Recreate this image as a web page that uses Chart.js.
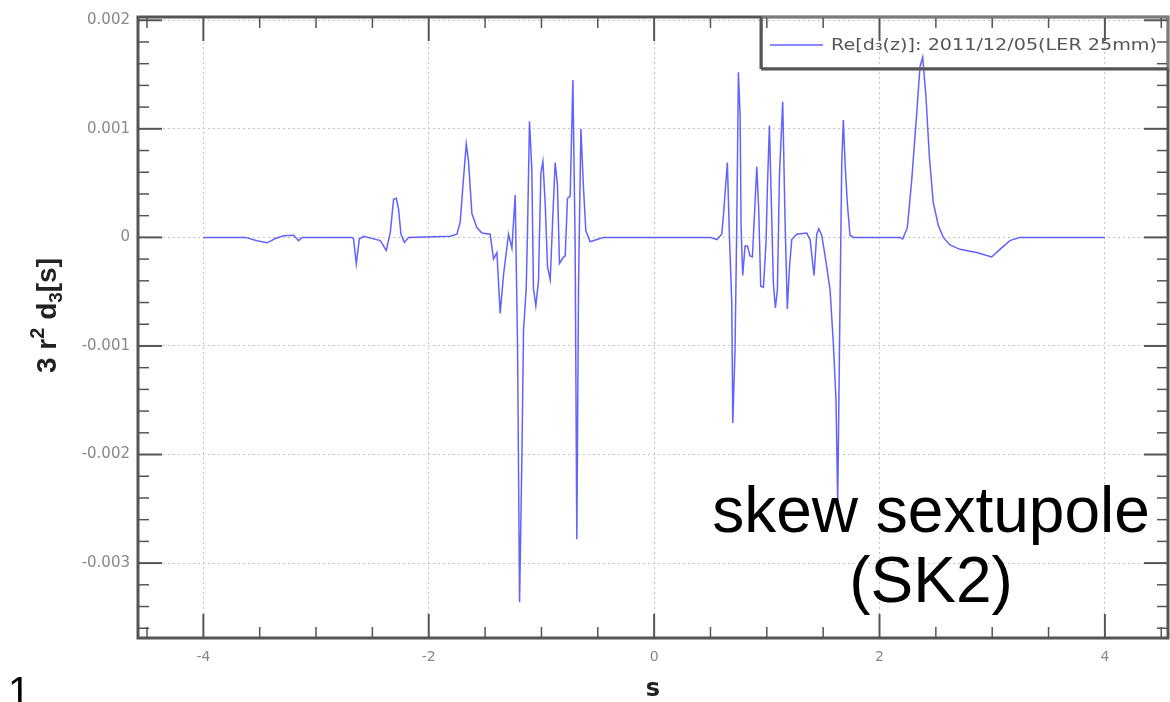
<!DOCTYPE html>
<html>
<head>
<meta charset="utf-8">
<script src="https://cdn.jsdelivr.net/npm/chart.js@4.4.1/dist/chart.umd.min.js"></script>
<style>
html, body { margin: 0; padding: 0; background: #fff; }
#wrap { position: relative; width: 1170px; height: 702px; overflow: hidden; }
#chart { position: absolute; left: 0; top: 0; }
.note { position: absolute; font-family: "Liberation Sans", Arial, sans-serif; color: #000; white-space: nowrap; }
</style>
</head>
<body>
<div id="wrap">
  <canvas id="chart" width="1170" height="702"></canvas>
  <div class="note" style="left:700px; top:475px; width:462px; text-align:center; font-size:64px; line-height:70px;">skew sextupole<br>(SK2)</div>
  <div class="note" style="left:8px; top:668px; font-size:40px; line-height:46px;">1</div>
</div>
<script>
// s positions along the magnet (x axis)
const sPos = [
  -4.0, -3.627, -3.524, -3.435, -3.361, -3.288, -3.199, -3.155, -3.125, -2.681,
  -2.667, -2.643, -2.616, -2.578, -2.430, -2.377, -2.341, -2.312, -2.288, -2.268,
  -2.247, -2.217, -2.179,
  -1.809, -1.750, -1.721, -1.691, -1.667, -1.647, -1.617, -1.573, -1.528, -1.455,
  -1.425, -1.395, -1.366, -1.336, -1.292, -1.262, -1.233, -1.212, -1.194, -1.173,
  -1.159, -1.135, -1.123, -1.106, -1.085, -1.071, -1.050, -1.026, -1.005, -0.987,
  -0.967, -0.946, -0.922, -0.899, -0.878, -0.858, -0.840, -0.810, -0.789, -0.769,
  -0.745, -0.721, -0.701, -0.686, -0.671, -0.650, -0.627, -0.606, -0.568, -0.508,
  -0.450,
  0.497, 0.556, 0.600, 0.615, 0.650, 0.668, 0.689, 0.698, 0.718, 0.733,
  0.748, 0.763, 0.772, 0.786, 0.807, 0.828, 0.851, 0.872, 0.887, 0.911,
  0.928, 0.946, 0.970, 0.993, 1.005, 1.023, 1.041, 1.058, 1.076, 1.094,
  1.112, 1.141, 1.162, 1.182, 1.200, 1.221, 1.266, 1.354, 1.384, 1.419,
  1.443, 1.461, 1.487, 1.517, 1.561, 1.590, 1.614, 1.629, 1.650, 1.665,
  1.679, 1.694, 1.714, 1.738, 1.768,
  2.182, 2.206, 2.247, 2.286, 2.330, 2.359, 2.383, 2.412, 2.442, 2.477,
  2.522, 2.566, 2.625, 2.714, 2.862, 2.995, 3.069, 3.157, 3.246, 4.0
];

// Re[d3(z)] values, 2011/12/05 (LER 25mm)
const d3Vals = [
  0, 0, -0.00003, -0.00005, -0.00001, 0.000015, 0.00002, -0.00003, 0, 0,
  -0.000015, -0.000245, -0.000015, 0.00001, -0.00003, -0.00012, 0.000046, 0.00035, 0.00036, 0.00026,
  0.00003, -0.000046, 0,
  0.00001, 0.00003, 0.00014, 0.00055, 0.00086, 0.0007, 0.00022, 0.00009, 0.00004, 0.00003,
  -0.0002, -0.00014, -0.0007, -0.00034, 0.00003, -0.0001, 0.00039, -0.001, -0.00336, -0.002,
  -0.00086, -0.00047, 0.00009, 0.00107, 0.00062, -0.00047, -0.00063, -0.0004, 0.00059, 0.0007,
  0.00032, -0.00027, -0.00039, 0.00019, 0.00069, 0.00048, -0.00024, -0.00019, -0.00017, 0.00036,
  0.00038, 0.00145, -0.00007, -0.00278, -0.00047, 0.001, 0.00046, 0.00006, -0.00004, -0.00002,
  0,
  0, -0.00002, 0.00003, 0.0002, 0.00069, 0.00002, -0.0006, -0.00171, -0.00103, 0.00008,
  0.00152, 0.00112, 0.00008, -0.00035, -0.00008, -0.00008, -0.00017, -0.00018, 0.00014, 0.00065,
  0.00026, -0.00045, -0.00046, -0.00005, 0.00045, 0.00103, 0.00029, -0.00042, -0.00065, -0.00048,
  0.00057, 0.00125, 0.00014, -0.00066, -0.00029, -0.00002, 0.00003, 0.00004, -0.00002, -0.00035,
  0.00003, 0.00008, 0.00002, -0.00017, -0.00048, -0.00097, -0.0015, -0.00245, -0.00057, 0.00069,
  0.00108, 0.00069, 0.00032, 0.00002, 0,
  0, -0.000015, 0.00009, 0.00053, 0.00114, 0.00157, 0.00166, 0.0013, 0.00075, 0.00032,
  0.00011, 0, -0.00007, -0.00011, -0.00014, -0.00018, -0.00011, -0.00003, 0, 0
];

const xTicks = [-4, -2, 0, 2, 4];
const xTickLabels = ['-4', '-2', '0', '2', '4'];
const xMinorTicks = [-4.5, -3.5, -3, -2.5, -1.5, -1, -0.5, 0.5, 1, 1.5, 2.5, 3, 3.5, 4.5];
const yTicks = [0.002, 0.001, 0, -0.001, -0.002, -0.003];
const yTickLabels = ['0.002', '0.001', '0', '-0.001', '-0.002', '-0.003'];
const yMinorTicks = [0.0018, 0.0016, 0.0014, 0.0012, 0.0008, 0.0006, 0.0004, 0.0002,
  -0.0002, -0.0004, -0.0006, -0.0008, -0.0012, -0.0014, -0.0016, -0.0018,
  -0.0022, -0.0024, -0.0026, -0.0028, -0.0032, -0.0034, -0.0036];
const seriesLabel = 'Re[d\u2083(z)]: 2011/12/05(LER 25mm)';
// y title pieces: text, baseline shift (em), size factor
const yTitleParts = [['3 r', 0, 1], ['2', -0.42, 0.72], [' d', 0, 1], ['3', 0.22, 0.68], ['[s]', 0, 1]];

const lineColor = 'rgba(70, 70, 255, 0.85)';
const frameColor = '#555';

// frame with inward ticks on all four sides, plus the boxed legend and y title
const framePlugin = {
    id: 'frame',
    afterDatasetsDraw(chart) {
        const { ctx, chartArea: a, scales: { x, y } } = chart;
        ctx.save();
        ctx.strokeStyle = frameColor;
        ctx.lineCap = 'butt';

        const seg = (x1, y1, x2, y2) => {
            ctx.beginPath();
            ctx.moveTo(x1, y1);
            ctx.lineTo(x2, y2);
            ctx.stroke();
        };

        ctx.lineWidth = 1.5;
        xMinorTicks.forEach(v => {
            const px = x.getPixelForValue(v);
            seg(px, a.bottom, px, a.bottom - 11);
            seg(px, a.top, px, a.top + 11);
        });
        yMinorTicks.forEach(v => {
            const py = y.getPixelForValue(v);
            seg(a.left, py, a.left + 11, py);
            seg(a.right, py, a.right - 11, py);
        });
        ctx.lineWidth = 2;
        xTicks.forEach(v => {
            const px = x.getPixelForValue(v);
            seg(px, a.bottom, px, a.bottom - 24);
            seg(px, a.top, px, a.top + 24);
        });
        yTicks.forEach(v => {
            const py = y.getPixelForValue(v);
            seg(a.left, py, a.left + 24, py);
            seg(a.right, py, a.right - 24, py);
        });

        ctx.lineWidth = 3;
        ctx.strokeRect(a.left, a.top, a.right - a.left, a.bottom - a.top);

        // legend box
        const lx = 762, ly = a.top, lw = a.right - 762, lh = 51;
        ctx.lineWidth = 1.5;
        ctx.strokeStyle = '#888';
        ctx.strokeRect(lx, ly, lw, lh);
        ctx.lineWidth = 3;
        ctx.strokeStyle = frameColor;
        seg(lx - 1, ly + lh + 1, lx + lw, ly + lh + 1);
        seg(lx - 1, ly, lx - 1, ly + lh + 1);

        ctx.strokeStyle = lineColor;
        ctx.lineWidth = 1.5;
        seg(770, ly + 28, 823, ly + 28);

        ctx.save();
        ctx.fillStyle = '#555';
        ctx.font = '16px "DejaVu Sans"';
        ctx.textBaseline = 'middle';
        const w = ctx.measureText(seriesLabel).width;
        ctx.translate(831, ly + 29);
        ctx.scale(326 / w, 1);
        ctx.fillText(seriesLabel, 0, 0);
        ctx.restore();

        // y axis title with real super/subscripts
        const size = 28;
        ctx.translate(46, (a.top + a.bottom) / 2 - 12);
        ctx.rotate(-Math.PI / 2);
        ctx.fillStyle = '#222';
        ctx.textBaseline = 'alphabetic';
        let total = 0;
        yTitleParts.forEach(p => {
            ctx.font = `bold ${Math.round(size * p[2])}px "Liberation Sans"`;
            total += ctx.measureText(p[0]).width;
        });
        let cx = -total / 2;
        yTitleParts.forEach(p => {
            ctx.font = `bold ${Math.round(size * p[2])}px "Liberation Sans"`;
            ctx.fillText(p[0], cx, size * 0.36 + p[1] * size);
            cx += ctx.measureText(p[0]).width;
        });
        ctx.restore();
    }
};

new Chart(document.getElementById('chart'), {
    type: 'line',
    data: {
        datasets: [{
            label: seriesLabel,
            data: sPos.map((s, i) => ({ x: s, y: d3Vals[i] })),
            borderColor: lineColor,
            borderWidth: 1.5,
            pointRadius: 0,
            tension: 0,
            fill: false
        }]
    },
    options: {
        responsive: false,
        animation: false,
        devicePixelRatio: 1,
        layout: { padding: { top: 17, right: 2, left: 0, bottom: 0 } },
        plugins: {
            legend: { display: false },
            tooltip: { enabled: false }
        },
        scales: {
            x: {
                type: 'linear',
                min: -4.58,
                max: 4.56,
                afterBuildTicks: s => { s.ticks = xTicks.map(v => ({ value: v })); },
                afterFit: s => { s.height = 64; },
                grid: { color: '#c4c4c4', lineWidth: 1, drawTicks: false },
                border: { display: false, dash: [2, 3] },
                ticks: {
                    padding: 11,
                    color: '#888',
                    font: { family: 'DejaVu Sans', size: 14 },
                    callback: (v, i) => xTickLabels[i]
                },
                title: {
                    display: true,
                    text: 's',
                    color: '#222',
                    font: { family: 'DejaVu Sans', size: 24, weight: 'bold' },
                    padding: { top: 0, bottom: -2 }
                }
            },
            y: {
                min: -0.00369,
                max: 0.00203,
                afterBuildTicks: s => { s.ticks = yTicks.map(v => ({ value: v })); },
                afterFit: s => { s.width = 138; },
                grid: { color: '#c4c4c4', lineWidth: 1, drawTicks: false },
                border: { display: false, dash: [2, 3] },
                ticks: {
                    padding: 8,
                    color: '#888',
                    font: { family: 'DejaVu Sans', size: 15 },
                    callback: (v, i) => yTickLabels[i]
                }
            }
        }
    },
    plugins: [framePlugin]
});
</script>
</body>
</html>
